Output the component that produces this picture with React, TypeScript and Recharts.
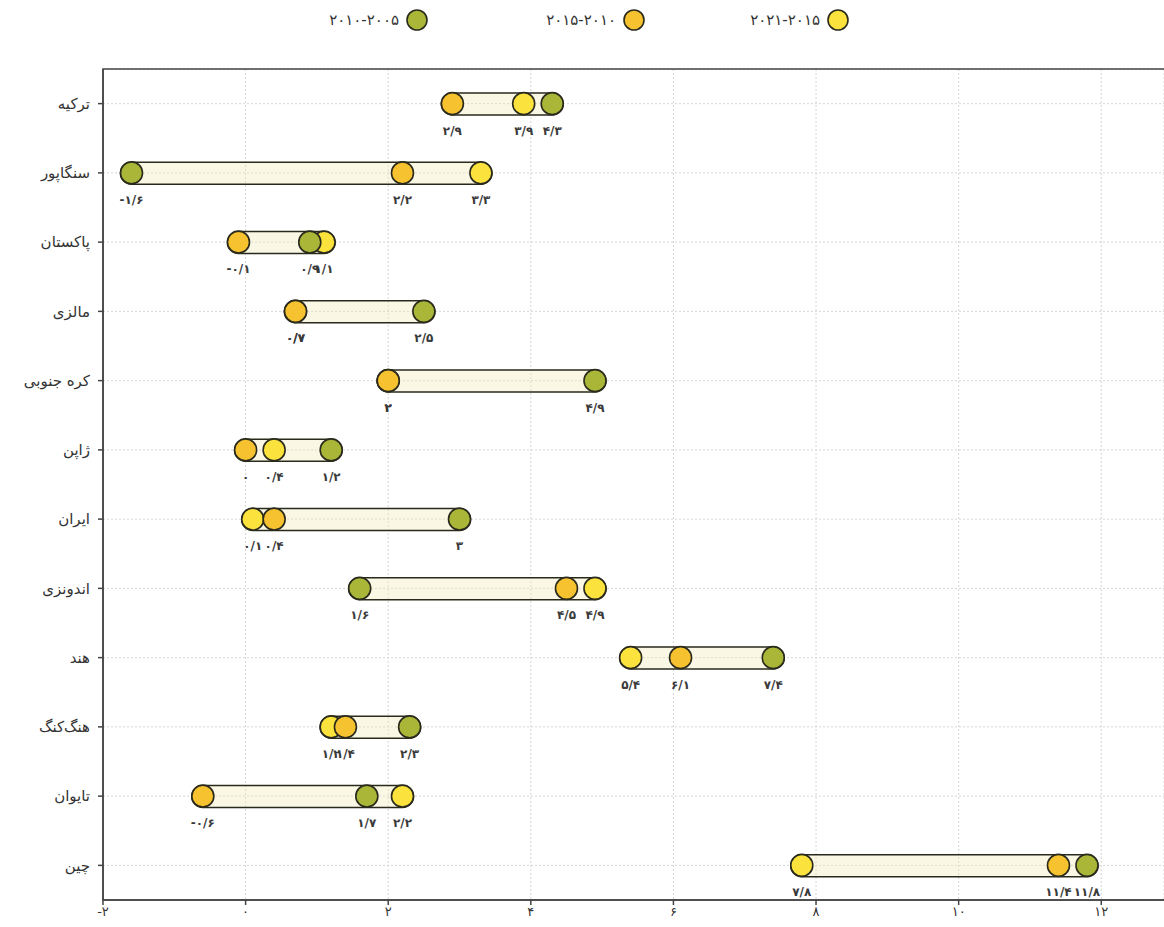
import {
  Bar,
  CartesianGrid,
  ComposedChart,
  LabelList,
  Legend,
  Line,
  ReferenceArea,
  XAxis,
  YAxis,
} from "recharts";

// countries top to bottom
const countries = [
  "ترکیه",
  "سنگاپور",
  "پاکستان",
  "مالزی",
  "کره جنوبی",
  "ژاپن",
  "ایران",
  "اندونزی",
  "هند",
  "هنگ\u200cکنگ",
  "تایوان",
  "چین",
];

const p2005_2010 = [4.3, -1.6, 0.9, 2.5, 4.9, 1.2, 3.0, 1.6, 7.4, 2.3, 1.7, 11.8];
const p2010_2015 = [2.9, 2.2, -0.1, 0.7, 2.0, 0.0, 0.4, 4.5, 6.1, 1.4, -0.6, 11.4];
const p2015_2021 = [3.9, 3.3, 1.1, 0.7, 2.0, 0.4, 0.1, 4.9, 5.4, 1.2, 2.2, 7.8];

const xTicks = [-2, 0, 2, 4, 6, 8, 10, 12];

const legendNames = ["۲۰۱۰-۲۰۰۵", "۲۰۱۵-۲۰۱۰", "۲۰۲۱-۲۰۱۵"];

const GREEN = "#a9b637";
const ORANGE = "#f7c22f";
const YELLOW = "#fbe23c";
const EDGE = "#2a2a1c";
const FONT = "'DejaVu Sans', sans-serif";

const fa = (v: number) =>
  (Math.round(v * 10) / 10)
    .toString()
    .replace(".", "/")
    .replace(/\d/g, (d) => "۰۱۲۳۴۵۶۷۸۹"[+d]);

const data = countries.map((name, i) => {
  const vals = [p2005_2010[i], p2010_2015[i], p2015_2021[i]];
  return {
    name,
    a: p2005_2010[i],
    b: p2010_2015[i],
    c: p2015_2021[i],
    range: [Math.min(...vals), Math.max(...vals)],
  };
});

const Pill = (props: any) => {
  const { x, y, width, height } = props;
  const x0 = Math.min(x, x + width);
  const w = Math.abs(width);
  const h = 22;
  const cy = y + height / 2;
  return (
    <rect
      x={x0 - 11}
      y={cy - h / 2}
      width={w + 22}
      height={h}
      rx={11}
      ry={11}
      fill="rgb(240,232,180)"
      fillOpacity={0.35}
      stroke={EDGE}
      strokeWidth={1.6}
    />
  );
};

const makeDot = (color: string) => (props: any) => {
  const { cx, cy, index } = props;
  return (
    <circle
      key={`d-${color}-${index}`}
      cx={cx}
      cy={cy}
      r={11}
      fill={color}
      stroke={EDGE}
      strokeWidth={1.6}
    />
  );
};

const valueLabel = (props: any) => {
  const { x, y, value } = props;
  return (
    <text
      x={x}
      y={y + 31}
      textAnchor="middle"
      fontSize={12}
      fontWeight="bold"
      fill="#3a3a3a"
      fontFamily={FONT}
    >
      {fa(value)}
    </text>
  );
};

const legendColors = [GREEN, ORANGE, YELLOW];
const legendCenters = [417, 634, 838];

const renderLegend = () => (
  <div style={{ position: "relative", height: 30, width: 1164 }}>
    {legendNames.map((n, i) => (
      <div
        key={n}
        style={{
          position: "absolute",
          right: 1164 - (legendCenters[i] + 12),
          top: 0,
          display: "flex",
          alignItems: "center",
          gap: 6,
          fontFamily: FONT,
          fontSize: 15,
          letterSpacing: 1,
          color: "#333",
        }}
      >
        <span>{n}</span>
        <svg width={24} height={24}>
          <circle cx={12} cy={12} r={10} fill={legendColors[i]} stroke={EDGE} strokeWidth={1.6} />
        </svg>
      </div>
    ))}
  </div>
);

export default function App() {
  return (
    <div style={{ width: 1164, height: 927, overflow: "hidden", background: "#fff" }}>
      <style>{`body{margin:0}`}</style>
      <ComposedChart
        width={1164}
        height={927}
        data={data}
        layout="vertical"
        margin={{ top: 69, right: 0, bottom: 3, left: 8 }}
      >
        <CartesianGrid stroke="#d6d6d6" strokeDasharray="2 2" />
        <XAxis
          type="number"
          domain={[-2, 12.88]}
          ticks={xTicks}
          allowDataOverflow
          tickFormatter={(v) => fa(v)}
          tick={{ fontSize: 13, fill: "#333", fontFamily: FONT }}
          tickSize={5}
          height={24}
          stroke="#444"
          strokeWidth={1.5}
        />
        <YAxis
          type="category"
          dataKey="name"
          width={95}
          tickSize={5}
          tickMargin={8}
          tick={{ fontSize: 15, fill: "#333", fontFamily: FONT }}
          stroke="#444"
          strokeWidth={1.5}
        />
        <ReferenceArea
          x1={-2}
          x2={14}
          ifOverflow="visible"
          fill="none"
          stroke="#444"
          strokeWidth={1.5}
        />
        <Legend
          layout="horizontal"
          verticalAlign="middle"
          align="center"
          wrapperStyle={{ top: 8, left: 0, width: 1164 }}
          content={renderLegend}
        />
        <Bar dataKey="range" barSize={22} shape={Pill} isAnimationActive={false} />
        <Line
          dataKey="c"
          stroke="none"
          dot={makeDot(YELLOW)}
          activeDot={false}
          isAnimationActive={false}
        >
          <LabelList dataKey="c" content={valueLabel} />
        </Line>
        <Line
          dataKey="b"
          stroke="none"
          dot={makeDot(ORANGE)}
          activeDot={false}
          isAnimationActive={false}
        >
          <LabelList dataKey="b" content={valueLabel} />
        </Line>
        <Line
          dataKey="a"
          stroke="none"
          dot={makeDot(GREEN)}
          activeDot={false}
          isAnimationActive={false}
        >
          <LabelList dataKey="a" content={valueLabel} />
        </Line>
      </ComposedChart>
    </div>
  );
}
